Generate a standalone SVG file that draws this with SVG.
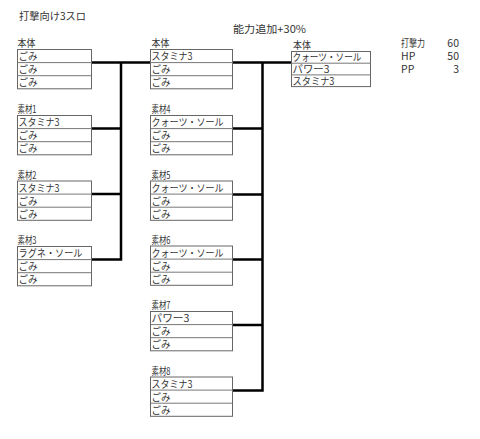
<svg xmlns="http://www.w3.org/2000/svg" width="480" height="439" viewBox="0 0 480 439">
<style>
text{font-family:"Noto Sans CJK JP","Liberation Sans",sans-serif;fill:#333;}
.t{font-size:10px;}
.lb{font-size:10.5px;}
.box{fill:#fff;stroke:#666;stroke-width:1;}
.div{stroke:#777;stroke-width:1;fill:none;}
.con{stroke:#000;stroke-width:2.5;fill:none;stroke-linejoin:miter;}
</style>
<rect width="480" height="439" fill="#fff"/>
<text class="lb" x="19" y="20" textLength="67" lengthAdjust="spacingAndGlyphs">打撃向け3スロ</text>
<text class="lb" x="233" y="33" textLength="73" lengthAdjust="spacingAndGlyphs">能力追加+30%</text>

<g id="connectors">
<path class="con" d="M91.5 62.5 H150.5 M121 62.5 V259.5 H91.5 M91.5 128.5 H121 M91.5 194 H121"/>
<path class="con" d="M232.5 62.5 H291.5 M262.5 62.5 V390.5 H232.5 M232.5 128.5 H262.5 M232.5 194.5 H262.5 M232.5 259.5 H262.5 M232.5 325 H262.5"/>
</g>

<g id="base-left">
<text class="lb" x="17.5" y="47" textLength="18" lengthAdjust="spacingAndGlyphs">本体</text>
<rect class="box" x="17.5" y="49.5" width="74" height="39.3"/>
<path class="div" d="M17.5 62.6 H91.5 M17.5 75.7 H91.5"/>
<text class="t" x="18.5" y="60" textLength="19" lengthAdjust="spacingAndGlyphs">ごみ</text>
<text class="t" x="18.5" y="73.1" textLength="19" lengthAdjust="spacingAndGlyphs">ごみ</text>
<text class="t" x="18.5" y="86.2" textLength="19" lengthAdjust="spacingAndGlyphs">ごみ</text>
</g>

<g id="mat1">
<text class="lb" x="17.5" y="113" textLength="19" lengthAdjust="spacingAndGlyphs">素材1</text>
<rect class="box" x="17.5" y="115.5" width="74" height="39.3"/>
<path class="div" d="M17.5 128.6 H91.5 M17.5 141.7 H91.5"/>
<text class="t" x="18.5" y="126" textLength="41" lengthAdjust="spacingAndGlyphs">スタミナ3</text>
<text class="t" x="18.5" y="139.1" textLength="19" lengthAdjust="spacingAndGlyphs">ごみ</text>
<text class="t" x="18.5" y="152.2" textLength="19" lengthAdjust="spacingAndGlyphs">ごみ</text>
</g>

<g id="mat2">
<text class="lb" x="17.5" y="178.5" textLength="19" lengthAdjust="spacingAndGlyphs">素材2</text>
<rect class="box" x="17.5" y="181" width="74" height="39.3"/>
<path class="div" d="M17.5 194.1 H91.5 M17.5 207.2 H91.5"/>
<text class="t" x="18.5" y="191.5" textLength="41" lengthAdjust="spacingAndGlyphs">スタミナ3</text>
<text class="t" x="18.5" y="204.6" textLength="19" lengthAdjust="spacingAndGlyphs">ごみ</text>
<text class="t" x="18.5" y="217.7" textLength="19" lengthAdjust="spacingAndGlyphs">ごみ</text>
</g>

<g id="mat3">
<text class="lb" x="17.5" y="244" textLength="19" lengthAdjust="spacingAndGlyphs">素材3</text>
<rect class="box" x="17.5" y="246.5" width="74" height="39.3"/>
<path class="div" d="M17.5 259.6 H91.5 M17.5 272.7 H91.5"/>
<text class="t" x="18.5" y="257" textLength="64" lengthAdjust="spacingAndGlyphs">ラグネ・ソール</text>
<text class="t" x="18.5" y="270.1" textLength="19" lengthAdjust="spacingAndGlyphs">ごみ</text>
<text class="t" x="18.5" y="283.2" textLength="19" lengthAdjust="spacingAndGlyphs">ごみ</text>
</g>

<g id="base-mid">
<text class="lb" x="151.5" y="47" textLength="18" lengthAdjust="spacingAndGlyphs">本体</text>
<rect class="box" x="150.5" y="49.5" width="82" height="39.3"/>
<path class="div" d="M150.5 62.6 H232.5 M150.5 75.7 H232.5"/>
<text class="t" x="151.5" y="60" textLength="41" lengthAdjust="spacingAndGlyphs">スタミナ3</text>
<text class="t" x="151.5" y="73.1" textLength="19" lengthAdjust="spacingAndGlyphs">ごみ</text>
<text class="t" x="151.5" y="86.2" textLength="19" lengthAdjust="spacingAndGlyphs">ごみ</text>
</g>

<g id="mat4">
<text class="lb" x="151.5" y="113" textLength="19" lengthAdjust="spacingAndGlyphs">素材4</text>
<rect class="box" x="150.5" y="115.5" width="82" height="39.3"/>
<path class="div" d="M150.5 128.6 H232.5 M150.5 141.7 H232.5"/>
<text class="t" x="151.5" y="126" textLength="72" lengthAdjust="spacingAndGlyphs">クォーツ・ソール</text>
<text class="t" x="151.5" y="139.1" textLength="19" lengthAdjust="spacingAndGlyphs">ごみ</text>
<text class="t" x="151.5" y="152.2" textLength="19" lengthAdjust="spacingAndGlyphs">ごみ</text>
</g>

<g id="mat5">
<text class="lb" x="151.5" y="178.5" textLength="19" lengthAdjust="spacingAndGlyphs">素材5</text>
<rect class="box" x="150.5" y="181" width="82" height="39.3"/>
<path class="div" d="M150.5 194.1 H232.5 M150.5 207.2 H232.5"/>
<text class="t" x="151.5" y="191.5" textLength="72" lengthAdjust="spacingAndGlyphs">クォーツ・ソール</text>
<text class="t" x="151.5" y="204.6" textLength="19" lengthAdjust="spacingAndGlyphs">ごみ</text>
<text class="t" x="151.5" y="217.7" textLength="19" lengthAdjust="spacingAndGlyphs">ごみ</text>
</g>

<g id="mat6">
<text class="lb" x="151.5" y="243.5" textLength="19" lengthAdjust="spacingAndGlyphs">素材6</text>
<rect class="box" x="150.5" y="246" width="82" height="39.3"/>
<path class="div" d="M150.5 259.1 H232.5 M150.5 272.2 H232.5"/>
<text class="t" x="151.5" y="256.5" textLength="72" lengthAdjust="spacingAndGlyphs">クォーツ・ソール</text>
<text class="t" x="151.5" y="269.6" textLength="19" lengthAdjust="spacingAndGlyphs">ごみ</text>
<text class="t" x="151.5" y="282.7" textLength="19" lengthAdjust="spacingAndGlyphs">ごみ</text>
</g>

<g id="mat7">
<text class="lb" x="151.5" y="309" textLength="19" lengthAdjust="spacingAndGlyphs">素材7</text>
<rect class="box" x="150.5" y="311.5" width="82" height="39.3"/>
<path class="div" d="M150.5 324.6 H232.5 M150.5 337.7 H232.5"/>
<text class="t" x="151.5" y="322" textLength="38" lengthAdjust="spacingAndGlyphs">パワー3</text>
<text class="t" x="151.5" y="335.1" textLength="19" lengthAdjust="spacingAndGlyphs">ごみ</text>
<text class="t" x="151.5" y="348.2" textLength="19" lengthAdjust="spacingAndGlyphs">ごみ</text>
</g>

<g id="mat8">
<text class="lb" x="151.5" y="374.5" textLength="19" lengthAdjust="spacingAndGlyphs">素材8</text>
<rect class="box" x="150.5" y="377" width="82" height="39.3"/>
<path class="div" d="M150.5 390.1 H232.5 M150.5 403.2 H232.5"/>
<text class="t" x="151.5" y="387.5" textLength="41" lengthAdjust="spacingAndGlyphs">スタミナ3</text>
<text class="t" x="151.5" y="400.6" textLength="19" lengthAdjust="spacingAndGlyphs">ごみ</text>
<text class="t" x="151.5" y="413.7" textLength="19" lengthAdjust="spacingAndGlyphs">ごみ</text>
</g>

<g id="result">
<text class="lb" x="293" y="49" textLength="18" lengthAdjust="spacingAndGlyphs">本体</text>
<rect class="box" x="291.5" y="51.5" width="79" height="35.1"/>
<path class="div" d="M291.5 63.2 H370.5 M291.5 74.9 H370.5"/>
<text class="t" x="292.5" y="61.3" textLength="69" lengthAdjust="spacingAndGlyphs">クォーツ・ソール</text>
<text class="t" x="292.5" y="73" textLength="37" lengthAdjust="spacingAndGlyphs">パワー3</text>
<text class="t" x="292.5" y="84.7" textLength="42" lengthAdjust="spacingAndGlyphs">スタミナ3</text>
</g>

<g id="stats">
<text class="lb" x="401" y="47" textLength="24" lengthAdjust="spacingAndGlyphs">打撃力</text>
<text class="lb" x="459" y="47" text-anchor="end">60</text>
<text class="lb" x="401" y="60">HP</text>
<text class="lb" x="459" y="60" text-anchor="end">50</text>
<text class="lb" x="401" y="73">PP</text>
<text class="lb" x="459" y="73" text-anchor="end">3</text>
</g>
</svg>
